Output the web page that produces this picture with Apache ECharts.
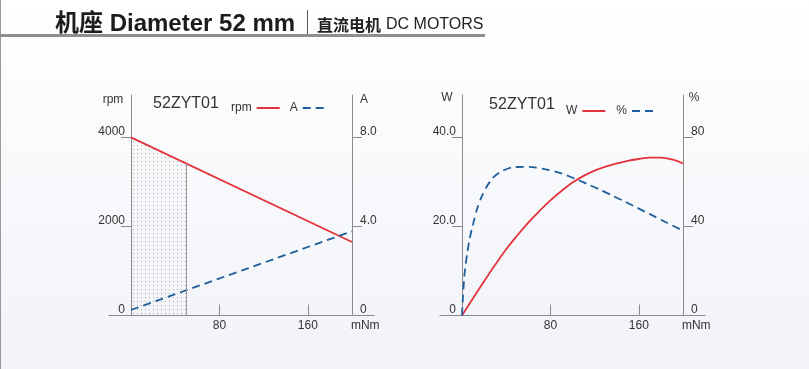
<!DOCTYPE html>
<html>
<head>
<meta charset="utf-8">
<script src="https://cdn.jsdelivr.net/npm/echarts@6/dist/echarts.min.js"></script>
<style>
html,body{margin:0;padding:0;background:#fff;}
#c{width:809px;height:369px;}
</style>
</head>
<body>
<div id="c"></div>
<script>
// ---- data ----
const torqueRange = [0, 200];          // mNm
const speedRpm = [4000, 1650];         // rpm at torque 0 / 200
const currentA = [0.25, 3.78];         // A at torque 0 / 200
const shadeTorque = [0, 50];           // rated operating zone
const shadeRpm = [4000, 3410];
const powerTorque = [0, 10, 20, 30, 40, 50, 60, 70, 80, 90, 100, 110, 120, 130, 140, 150, 160, 170, 180, 190, 200];
const powerW = [0, 3.9, 7.7, 11.4, 14.9, 18.0, 20.9, 23.5, 25.9, 28.0, 29.9, 31.4, 32.6, 33.5, 34.2, 34.8, 35.2, 35.5, 35.5, 35.1, 34.2];
const effTorque = [0, 2, 4, 6, 8, 10, 12, 15, 20, 25, 30, 40, 50, 60, 70, 80, 90, 100, 110, 120, 130, 140, 150, 160, 170, 180, 190, 200];
const effPct = [0, 17, 25.5, 32, 37, 41, 45, 50, 55.8, 60, 62.9, 65.8, 66.8, 66.9, 66.3, 65.3, 63.9, 62.0, 59.9, 57.7, 55.4, 53.0, 50.6, 48.1, 45.6, 43.1, 40.6, 38.1];
const xTicks = [80, 160];
const xUnitAt = 212;                   // where the "mNm" unit label sits
const rpmTicks = [0, 2000, 4000];
const ampTicks = [0, 4, 8];
const wattTicks = [0, 20, 40];
const pctTicks = [0, 40, 80];
const modelName = '52ZYT01';

const zip = (a, b) => a.map((v, i) => [v, b[i]]);

// dotted pattern
const pat = document.createElement('canvas');
pat.width = 4; pat.height = 4;
const pctx = pat.getContext('2d');
pctx.fillStyle = 'rgba(110,110,110,0.6)';
pctx.fillRect(1, 1, 1, 1);

const FONT = '"Liberation Sans", Arial, "Noto Sans CJK SC", sans-serif';
const AX = '#8a8a8a';
const TXT = '#333';
const RED = '#e3343c';
const BLUE = '#1f5f9c';

function dataX(grid) {
  return { gridIndex: grid, type: 'value', min: 0, max: 200,
    axisLine: { show: false }, axisTick: { show: false }, axisLabel: { show: false }, splitLine: { show: false } };
}
function frameX(grid) {
  return { gridIndex: grid, type: 'value', min: -20, max: 220,
    axisLine: { show: true, onZero: false, lineStyle: { color: AX, width: 1 } },
    axisTick: { show: true, inside: true, length: 11, customValues: xTicks, lineStyle: { color: AX } },
    axisLabel: { show: true, customValues: xTicks.concat([xUnitAt]), margin: 4, color: TXT, fontSize: 12, fontFamily: FONT,
      formatter: v => (v > 200 ? 'mNm' : String(v)) },
    splitLine: { show: false } };
}
function yAx(grid, pos, max, ticks, fmt) {
  return { gridIndex: grid, type: 'value', position: pos, min: 0, max: max,
    axisLine: { show: true, onZero: false, lineStyle: { color: AX, width: 1 } },
    axisTick: { show: true, inside: false, length: 10, customValues: ticks.filter(t => t > 0), lineStyle: { color: AX } },
    axisLabel: { show: true, customValues: ticks, margin: pos === 'left' ? 6 : 8, color: TXT, fontSize: 12, fontFamily: FONT,
      verticalAlign: 'bottom', formatter: fmt },
    splitLine: { show: false } };
}
function dummyY(grid) {
  return { gridIndex: grid, type: 'value', min: 0, max: 1, show: false };
}
const fmtInt = v => String(v);
const fmt1 = v => (v === 0 ? '0' : v.toFixed(1));
const noDot = { opacity: 0, color: 'transparent', borderWidth: 0 };

const chart = echarts.init(document.getElementById('c'), null, { renderer: 'canvas' });
const option = {
  animation: false,
  backgroundColor: { type: 'linear', x: 0, y: 0, x2: 0, y2: 1,
    colorStops: [{ offset: 0, color: '#ffffff' }, { offset: 1, color: '#f1f3f8' }] },
  textStyle: { fontFamily: FONT },
  grid: [
    { left: 131, top: 95, width: 221, height: 220.5 },
    { left: 108.9, top: 95, width: 265.2, height: 220.5 },
    { left: 462, top: 95, width: 221, height: 220.5 },
    { left: 439.9, top: 95, width: 265.2, height: 220.5 }
  ],
  xAxis: [dataX(0), frameX(1), dataX(2), frameX(3)],
  yAxis: [
    yAx(0, 'left', 4950, rpmTicks, fmtInt),
    yAx(0, 'right', 9.9, ampTicks, fmt1),
    dummyY(1),
    yAx(2, 'left', 49.6, wattTicks, fmt1),
    yAx(2, 'right', 99.2, pctTicks, fmtInt),
    dummyY(3)
  ],
  legend: [
    { data: [{ name: 'rpm', itemStyle: noDot }, { name: 'A', itemStyle: noDot }], left: 226, top: 97, align: 'right',
      itemWidth: 23, itemHeight: 10, itemGap: 9, itemStyle: noDot,
      textStyle: { color: TXT, fontSize: 12, fontFamily: FONT }, selectedMode: false },
    { data: [{ name: 'W', itemStyle: noDot }, { name: '%', itemStyle: noDot }], left: 561, top: 100, align: 'right',
      itemWidth: 23, itemHeight: 10, itemGap: 10, itemStyle: noDot,
      textStyle: { color: TXT, fontSize: 12, fontFamily: FONT }, selectedMode: false }
  ],
  series: [
    { name: 'zone', type: 'line', xAxisIndex: 0, yAxisIndex: 0, data: zip(shadeTorque, shadeRpm),
      symbol: 'none', silent: true, lineStyle: { width: 0 }, z: 1,
      areaStyle: { color: { image: pat, repeat: 'repeat' }, opacity: 1 },
      markLine: { silent: true, symbol: 'none', label: { show: false },
        lineStyle: { color: '#9a9a9a', type: 'solid', width: 1 },
        data: [[{ coord: [shadeTorque[1], 0] }, { coord: [shadeTorque[1], shadeRpm[1]] }]] } },
    { name: 'rpm', type: 'line', xAxisIndex: 0, yAxisIndex: 0, data: zip(torqueRange, speedRpm),
      symbol: 'none', lineStyle: { color: RED, width: 1.8 }, itemStyle: { color: RED }, z: 3 },
    { name: 'A', type: 'line', xAxisIndex: 0, yAxisIndex: 1, data: zip(torqueRange, currentA),
      symbol: 'none', lineStyle: { color: BLUE, width: 1.8, type: [8, 5] }, itemStyle: { color: BLUE }, z: 3 },
    { name: 'W', type: 'line', xAxisIndex: 2, yAxisIndex: 3, data: zip(powerTorque, powerW), smooth: 0.4,
      symbol: 'none', lineStyle: { color: RED, width: 1.8 }, itemStyle: { color: RED }, z: 3 },
    { name: '%', type: 'line', xAxisIndex: 2, yAxisIndex: 4, data: zip(effTorque, effPct), smooth: 0.4,
      symbol: 'none', lineStyle: { color: BLUE, width: 1.8, type: [8, 5] }, itemStyle: { color: BLUE }, z: 3 }
  ],
  graphic: [
    { type: 'rect', left: 0, top: 0, shape: { width: 1, height: 369 }, style: { fill: '#9a9a9a' }, silent: true },
    { type: 'rect', left: 0, top: 34, shape: { width: 485, height: 3 }, style: { fill: '#8e8e8e' }, silent: true },
    { type: 'rect', left: 307, top: 10, shape: { width: 1, height: 24 }, style: { fill: '#555' }, silent: true },
    { type: 'text', x: 55, y: 24, style: { text: '机座 Diameter 52 mm', font: 'bold 24px ' + FONT, fill: '#1c1c1c', verticalAlign: 'middle' } },
    { type: 'text', x: 317, y: 25, style: { text: '直流电机', font: 'bold 16px "Noto Sans CJK SC", sans-serif', fill: '#222', verticalAlign: 'middle' } },
    { type: 'text', x: 386, y: 25, style: { text: 'DC MOTORS', font: '16px ' + FONT, fill: '#222', verticalAlign: 'middle' } },
    { type: 'text', x: 186, y: 104, style: { text: modelName, font: '16px ' + FONT, fill: TXT, align: 'center', verticalAlign: 'middle' } },
    { type: 'text', x: 522, y: 105, style: { text: modelName, font: '16px ' + FONT, fill: TXT, align: 'center', verticalAlign: 'middle' } },
    { type: 'text', x: 113, y: 100, style: { text: 'rpm', font: '12px ' + FONT, fill: TXT, align: 'center', verticalAlign: 'middle' } },
    { type: 'text', x: 364, y: 100, style: { text: 'A', font: '12px ' + FONT, fill: TXT, align: 'center', verticalAlign: 'middle' } },
    { type: 'text', x: 447, y: 98, style: { text: 'W', font: '12px ' + FONT, fill: TXT, align: 'center', verticalAlign: 'middle' } },
    { type: 'text', x: 694, y: 98, style: { text: '%', font: '12px ' + FONT, fill: TXT, align: 'center', verticalAlign: 'middle' } }
  ]
};
chart.setOption(option);
</script>
</body>
</html>
